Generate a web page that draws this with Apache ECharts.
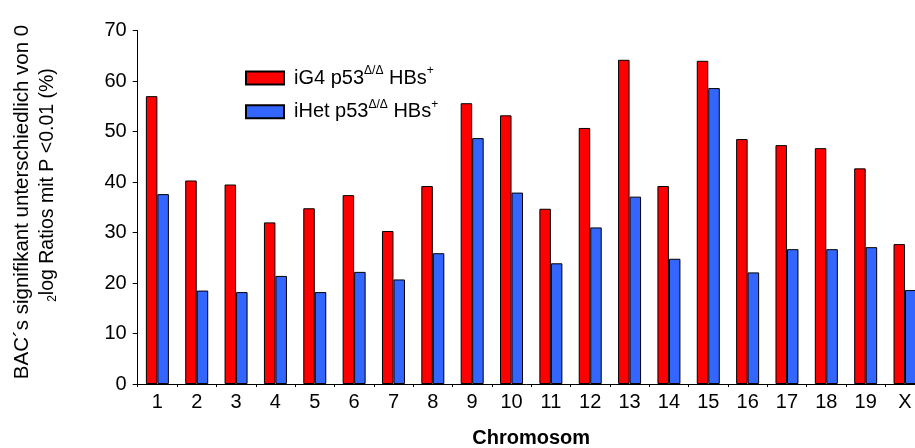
<!DOCTYPE html>
<html>
<head>
<meta charset="utf-8">
<script src="https://cdn.jsdelivr.net/npm/echarts@6/dist/echarts.min.js"></script>
<style>
  html, body { margin: 0; padding: 0; background: #fff; }
  #chart { width: 915px; height: 448px; }
</style>
</head>
<body>
<div id="chart"></div>
<script>
// chromosomes on the x axis
const chromosomes = ['1', '2', '3', '4', '5', '6', '7', '8', '9', '10',
  '11', '12', '13', '14', '15', '16', '17', '18', '19', 'X'];

// % of BACs significantly different from 0
const iG4Values = [57.0, 40.3, 39.5, 32.0, 34.8, 37.4, 30.3, 39.2, 55.6, 53.2,
  34.7, 50.7, 64.2, 39.2, 64.0, 48.5, 47.3, 46.7, 42.7, 27.7];
const iHetValues = [37.6, 18.5, 18.2, 21.4, 18.2, 22.2, 20.7, 25.9, 48.7, 37.9,
  23.9, 31.0, 37.1, 24.8, 58.6, 22.1, 26.7, 26.7, 27.1, 18.6];

const seriesNames = ['iG4', 'iHet'];
const legendText = {
  iG4: '{tf|iG4 p53}{sup|Δ/Δ}{t| HBs}{sup|+}',
  iHet: '{tf|iHet p53}{sup|Δ/Δ}{t| HBs}{sup|+}'
};

const FONT = 'Liberation Sans, Arial, sans-serif';

const chart = echarts.init(document.getElementById('chart'));

const option = {
  backgroundColor: '#fff',
  animation: false,
  grid: {
    left: 137.7,
    right: -9.7,
    top: 30.5,
    bottom: 64,
    outerBoundsMode: 'none'
  },
  legend: {
    data: seriesNames,
    orient: 'vertical',
    left: 245,
    top: 65,
    padding: 0,
    icon: 'rect',
    itemWidth: 38,
    itemHeight: 13,
    itemGap: 10.7,
    formatter: (name) => legendText[name],
    textStyle: {
      rich: {
        tf: { fontFamily: FONT, fontSize: 20, color: '#000', lineHeight: 26, padding: [0, 0, 0, 5] },
        t: { fontFamily: FONT, fontSize: 20, color: '#000', lineHeight: 26 },
        sup: { fontFamily: FONT, fontSize: 12, color: '#000', verticalAlign: 'top', lineHeight: 26, padding: [0, 0, 8, 0] }
      }
    }
  },
  graphic: [
    {
      type: 'text',
      x: 22,
      y: 202,
      rotation: Math.PI / 2,
      style: {
        text: 'BAC´s signifikant unterschiedlich von 0',
        font: '20.5px ' + FONT,
        fill: '#000',
        align: 'center',
        verticalAlign: 'middle'
      }
    },
    {
      type: 'text',
      x: 48,
      y: 185,
      rotation: Math.PI / 2,
      style: {
        text: '{s|2}{t|log Ratios mit P <0.01 (%)}',
        align: 'center',
        verticalAlign: 'middle',
        rich: {
          t: { font: '19.5px ' + FONT, fill: '#000' },
          s: { font: '12px ' + FONT, fill: '#000', verticalAlign: 'bottom', padding: [9, 0, 0, 0] }
        }
      }
    }
  ],
  xAxis: {
    type: 'category',
    data: chromosomes,
    name: 'Chromosom',
    nameLocation: 'middle',
    nameGap: 44,
    nameTextStyle: { fontFamily: FONT, fontSize: 20, fontWeight: 'bold', color: '#000' },
    axisLine: { lineStyle: { color: '#000', width: 1 } },
    axisTick: { show: true, alignWithLabel: false, length: 3, lineStyle: { color: '#000' } },
    axisLabel: { fontFamily: FONT, fontSize: 20, color: '#000', margin: 8 },
    splitLine: { show: false }
  },
  yAxis: {
    type: 'value',
    min: 0,
    max: 70,
    interval: 10,
    axisLine: { show: true, lineStyle: { color: '#000', width: 1 } },
    axisTick: { show: true, inside: false, length: 5, lineStyle: { color: '#000' } },
    axisLabel: { fontFamily: FONT, fontSize: 20, color: '#000', margin: 11 },
    splitLine: { show: false }
  },
  series: [
    {
      name: 'iG4',
      type: 'bar',
      data: iG4Values,
      barWidth: 11.5,
      barGap: 0,
      itemStyle: { color: '#ff0000', borderColor: '#000', borderWidth: 1 }
    },
    {
      name: 'iHet',
      type: 'bar',
      data: iHetValues,
      barWidth: 11.5,
      barGap: 0,
      itemStyle: { color: '#3366ff', borderColor: '#000', borderWidth: 1 }
    }
  ]
};

chart.setOption(option);
</script>
</body>
</html>
